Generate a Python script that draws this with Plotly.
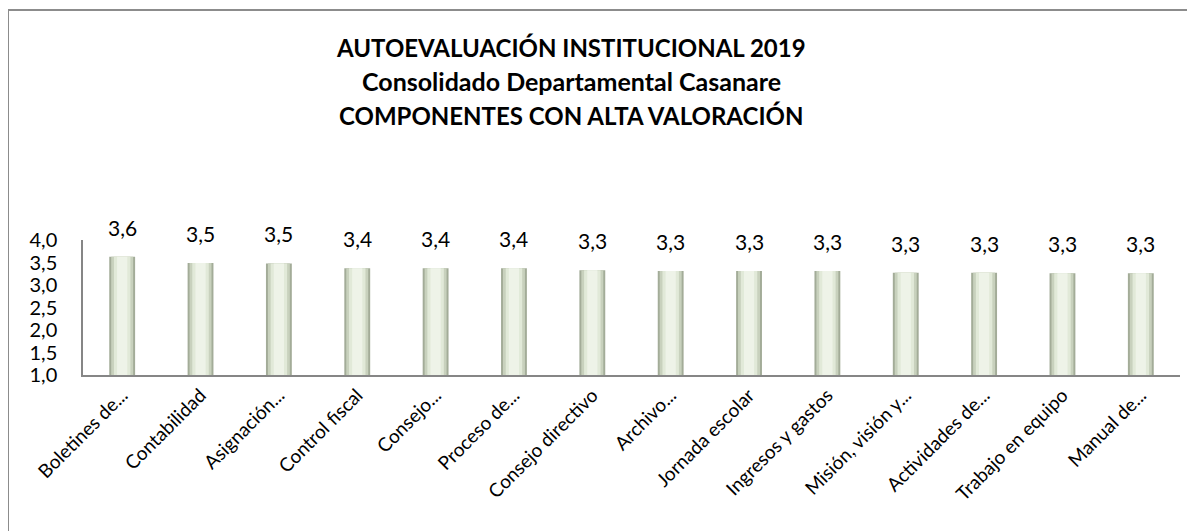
import plotly.graph_objects as go

categories = ["Boletines de...", "Contabilidad", "Asignación...", "Control fiscal",
              "Consejo...", "Proceso de...", "Consejo directivo", "Archivo...",
              "Jornada escolar", "Ingresos y gastos", "Misión, visión y...",
              "Actividades de...", "Trabajo en equipo", "Manual de..."]
values = [3.63, 3.49, 3.48, 3.37, 3.37, 3.37, 3.33, 3.31, 3.31, 3.31, 3.27, 3.27, 3.26, 3.26]
title_lines = ["AUTOEVALUACIÓN INSTITUCIONAL 2019",
               "Consolidado Departamental Casanare",
               "COMPONENTES CON ALTA VALORACIÓN"]
y_ticks = [1.0, 1.5, 2.0, 2.5, 3.0, 3.5, 4.0]

OFF = 8  # default page body margin
W, H = 1195 - OFF, 531 - OFF
L = 83 - OFF
T = 240 - OFF
R = W - (1180 - OFF)
B = H - (375 - OFF)
pw, ph = W - L - R, H - T - B

def px_x(p):
    return (p - OFF - L) / pw

def px_y(p):
    return (H - B - (p - OFF)) / ph

FONT = "Lato"

fig = go.Figure()
# layered bars to imitate the bevelled gradient look
for width, color in [(0.33, "#a3ac98"), (0.28, "#c8d1bd"), (0.21, "#e1e9d8"), (0.13, "#eef3e8")]:
    fig.add_trace(go.Bar(x=categories, y=values, width=width, marker=dict(color=color, line=dict(width=0)),
                         hoverinfo="skip", showlegend=False))

annotations = []
for c, v in zip(categories, values):
    annotations.append(dict(x=c, y=v, text=f"{v:.1f}".replace(".", ","), showarrow=False,
                            yanchor="bottom", yshift=15, font=dict(family=FONT, size=21, color="#000000")))

title_sizes = [24, 25, 24]
for i, line in enumerate(title_lines):
    annotations.append(dict(xref="paper", yref="paper", x=px_x(571), y=px_y(47 + 34 * i), text=f"<b>{line}</b>",
                            showarrow=False, xanchor="center", yanchor="middle",
                            font=dict(family=FONT, size=title_sizes[i], color="#000000")))

fig.update_layout(
    width=W, height=H,
    margin=dict(l=L, r=R, t=T, b=B),
    paper_bgcolor="white", plot_bgcolor="white",
    barmode="overlay",
    separators=",.",
    annotations=annotations,
    shapes=[dict(type="rect", xref="paper", yref="paper", x0=px_x(8), x1=px_x(1210), y0=px_y(545), y1=px_y(10),
                 line=dict(color="#8c8c8c", width=2), layer="below")],
    xaxis=dict(tickangle=-45, showline=True, linecolor="#868686", linewidth=1.5, ticks="",
               tickfont=dict(family=FONT, size=19, color="#000000"), showgrid=False, automargin=False),
    yaxis=dict(range=[1, 4], tickvals=y_ticks, ticktext=[f"{t:.1f}".replace(".", ",") for t in y_ticks],
               showline=True, linecolor="#868686", linewidth=1.5, ticks="", showgrid=False, automargin=False,
               tickfont=dict(family=FONT, size=20, color="#000000"), ticklabelstandoff=20),
    font=dict(family=FONT),
)

fig.write_html("out.html")
